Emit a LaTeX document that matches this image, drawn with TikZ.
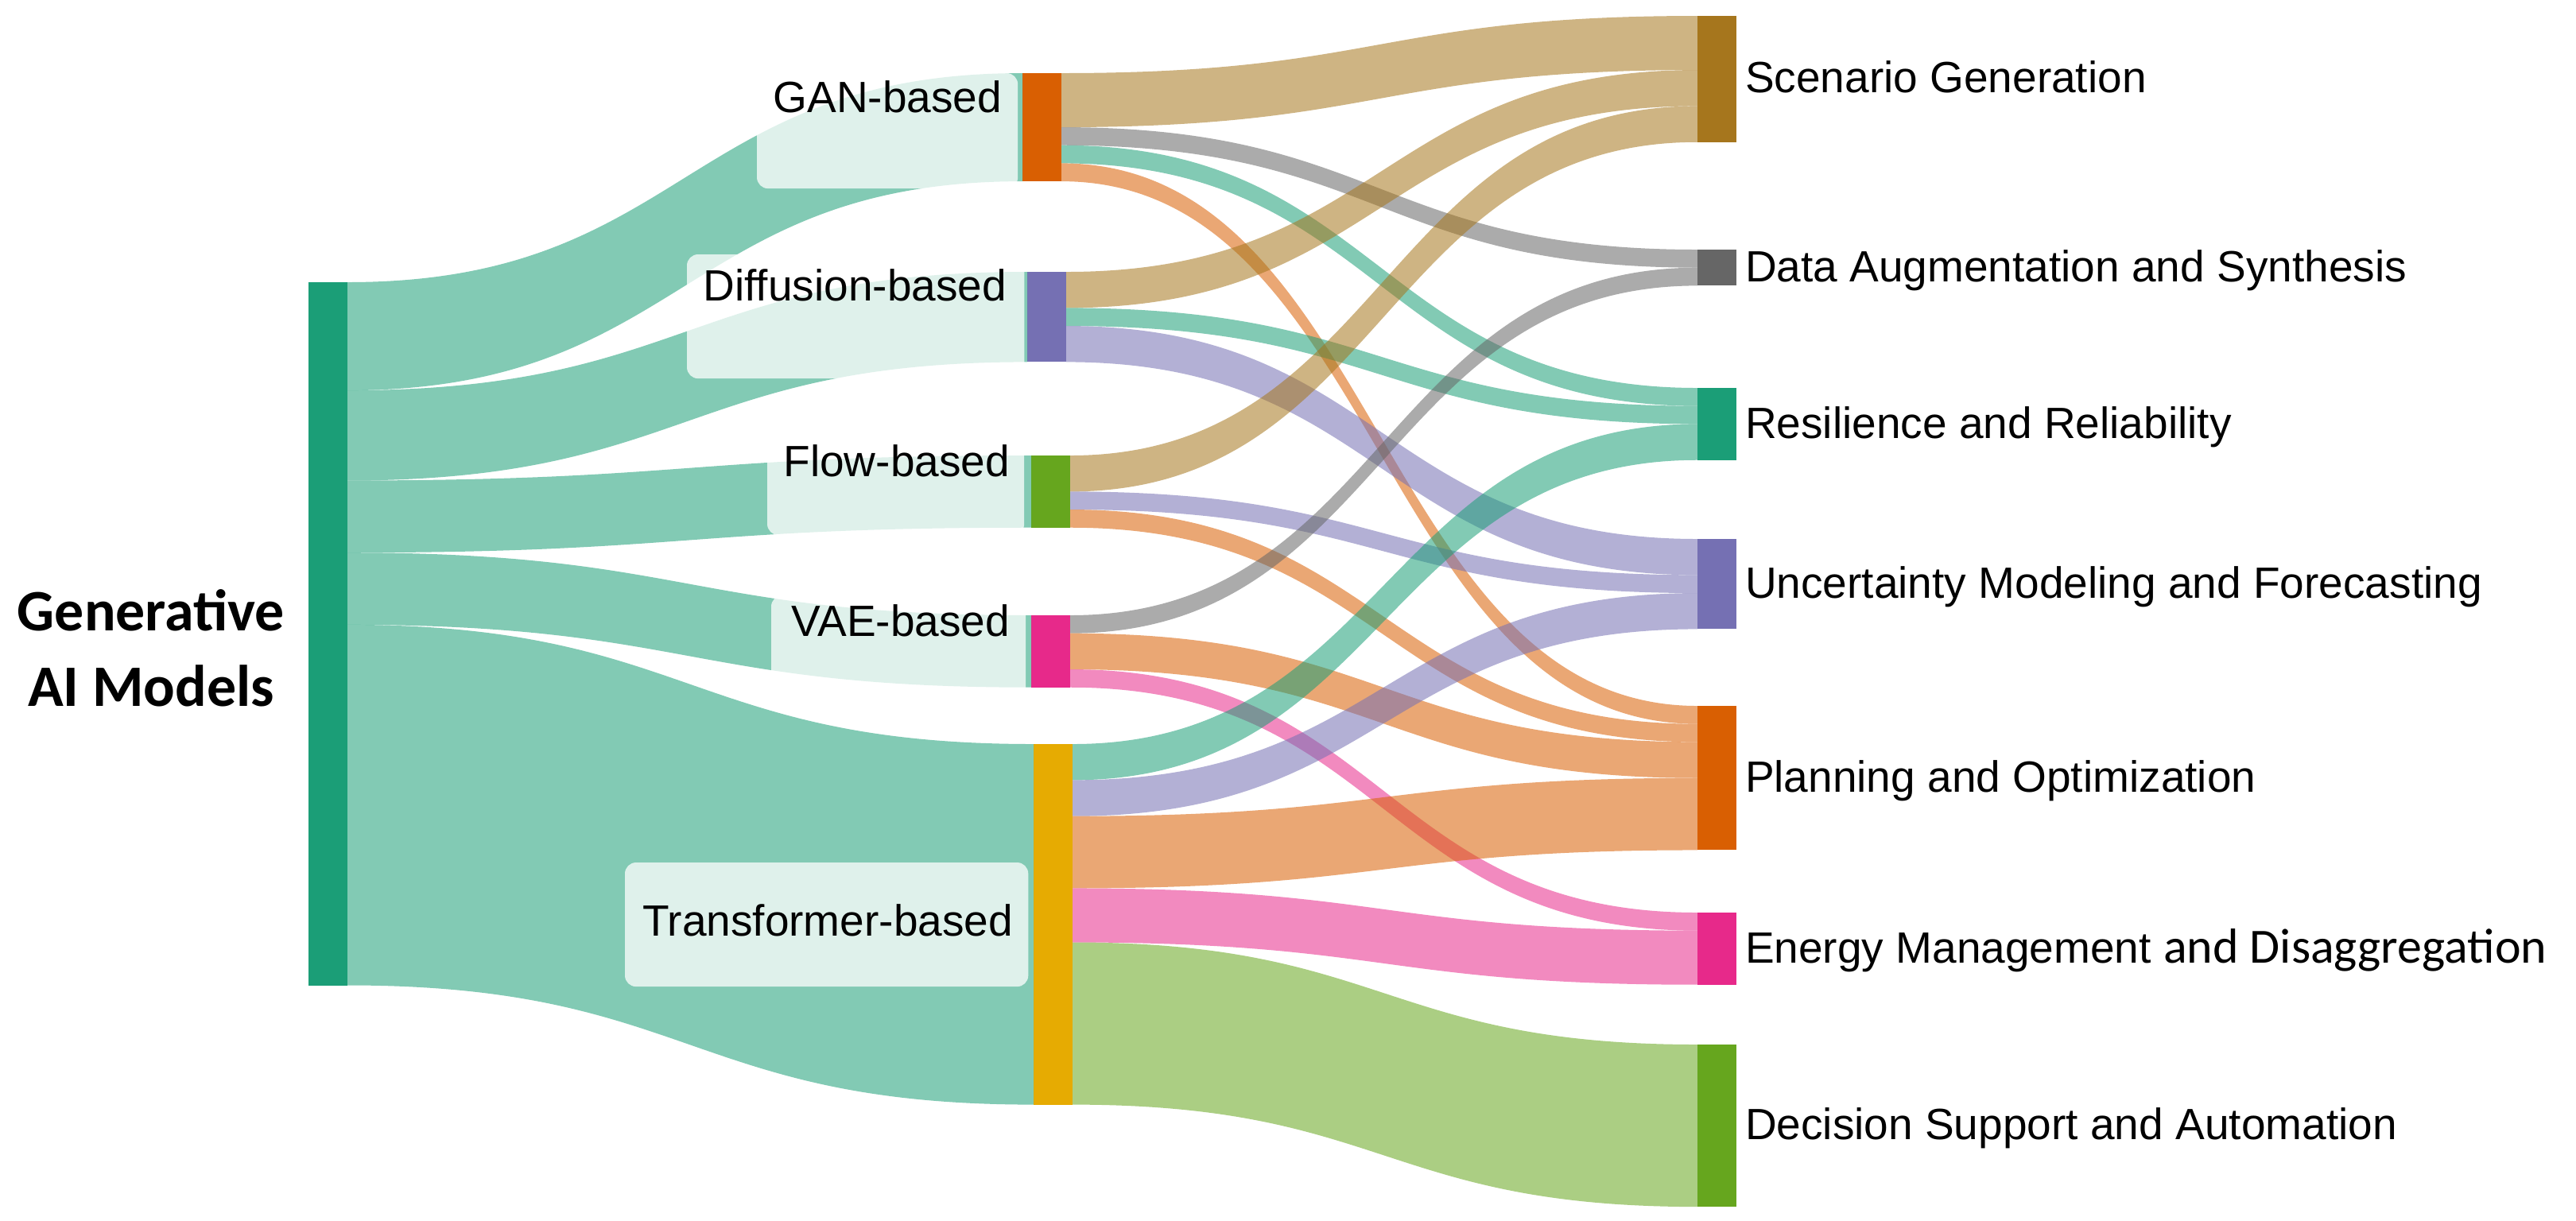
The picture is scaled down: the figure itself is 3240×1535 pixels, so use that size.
\documentclass[tikz,border=0pt]{standalone}
\usepackage{fontspec}
\setmainfont{Liberation Sans}
\newfontfamily\carlito{Carlito}
\usetikzlibrary{calc}
\definecolor{cTeal}{HTML}{1B9E77}
\definecolor{cOrange}{HTML}{D95F02}
\definecolor{cPurple}{HTML}{7570B3}
\definecolor{cPink}{HTML}{E7298A}
\definecolor{cGreen}{HTML}{66A61E}
\definecolor{cYellow}{HTML}{E6AB02}
\definecolor{cBrown}{HTML}{A6761D}
\definecolor{cGrey}{HTML}{666666}
\newcommand{\skunit}{6.449}
% source node, source offset (units), target node, target offset (units), width (units), colour
\newcommand{\sklink}[6]{%
  \fill[flow, #6] let \p1=(#1.north east), \p2=(#3.north west),
    \n1={#2*\skunit}, \n2={#4*\skunit}, \n3={#5*\skunit}, \n4={(\x1+\x2)/2} in
    (\x1,{\y1-\n1*1pt}) .. controls ({\n4*1pt},{\y1-\n1*1pt}) and ({\n4*1pt},{\y2-\n2*1pt}) .. (\x2,{\y2-\n2*1pt})
    -- (\x2,{\y2-\n2*1pt-\n3*1pt}) .. controls ({\n4*1pt},{\y2-\n2*1pt-\n3*1pt}) and ({\n4*1pt},{\y1-\n1*1pt-\n3*1pt}) .. (\x1,{\y1-\n1*1pt-\n3*1pt}) -- cycle;}
\tikzset{
  bar/.style={rectangle, inner sep=0pt, outer sep=0pt, minimum width=0.49cm, anchor=north west},
  flow/.style={fill opacity=0.55},
  lblbox/.style={rectangle, inner sep=0pt, outer sep=0pt, anchor=north west, fill=white, fill opacity=0.75, rounded corners=0.14cm},
  lbl/.style={inner sep=0pt, outer sep=0pt, font=\fontsize{15.65}{18}\selectfont, text=black}
}
\begin{document}
\begin{tikzpicture}[x=0.01cm, y=-0.01cm]
\useasboundingbox (0,0) rectangle (3240,1535);
% nodes (bars)
\node[bar, fill=cTeal,   minimum height={39*\skunit pt}] (root)  at (388,355) {};
\node[bar, fill=cOrange, minimum height={6*\skunit pt}]  (gan)   at (1286,92) {};
\node[bar, fill=cPurple, minimum height={5*\skunit pt}]  (diff)  at (1292,342) {};
\node[bar, fill=cGreen,  minimum height={4*\skunit pt}]  (flw)   at (1297,573) {};
\node[bar, fill=cPink,   minimum height={4*\skunit pt}]  (vae)   at (1297,774) {};
\node[bar, fill=cYellow, minimum height={20*\skunit pt}] (trans) at (1300,936) {};
\node[bar, fill=cBrown,  minimum height={7*\skunit pt}]  (scen)  at (2135,20) {};
\node[bar, fill=cGrey,   minimum height={2*\skunit pt}]  (data)  at (2135,314) {};
\node[bar, fill=cTeal,   minimum height={4*\skunit pt}]  (resi)  at (2135,488) {};
\node[bar, fill=cPurple, minimum height={5*\skunit pt}]  (unc)   at (2135,678) {};
\node[bar, fill=cOrange, minimum height={8*\skunit pt}]  (plan)  at (2135,888) {};
\node[bar, fill=cPink,   minimum height={4*\skunit pt}]  (ener)  at (2135,1148) {};
\node[bar, fill=cGreen,  minimum height={9*\skunit pt}]  (deci)  at (2135,1314) {};
% links from the root
\sklink{root}{0}{gan}{0}{6}{cTeal}
\sklink{root}{6}{diff}{0}{5}{cTeal}
\sklink{root}{11}{flw}{0}{4}{cTeal}
\sklink{root}{15}{vae}{0}{4}{cTeal}
\sklink{root}{19}{trans}{0}{20}{cTeal}
% GAN
\sklink{gan}{0}{scen}{0}{3}{cBrown}
\sklink{gan}{3}{data}{0}{1}{cGrey}
\sklink{gan}{4}{resi}{0}{1}{cTeal}
\sklink{gan}{5}{plan}{0}{1}{cOrange}
% Diffusion
\sklink{diff}{0}{scen}{3}{2}{cBrown}
\sklink{diff}{2}{resi}{1}{1}{cTeal}
\sklink{diff}{3}{unc}{0}{2}{cPurple}
% Flow
\sklink{flw}{0}{scen}{5}{2}{cBrown}
\sklink{flw}{2}{unc}{2}{1}{cPurple}
\sklink{flw}{3}{plan}{1}{1}{cOrange}
% VAE
\sklink{vae}{0}{data}{1}{1}{cGrey}
\sklink{vae}{1}{plan}{2}{2}{cOrange}
\sklink{vae}{3}{ener}{0}{1}{cPink}
% Transformer
\sklink{trans}{0}{resi}{2}{2}{cTeal}
\sklink{trans}{2}{unc}{3}{2}{cPurple}
\sklink{trans}{4}{plan}{4}{4}{cOrange}
\sklink{trans}{8}{ener}{1}{3}{cPink}
\sklink{trans}{11}{deci}{0}{9}{cGreen}
% label backgrounds
\node[lblbox, minimum width=3.28cm, minimum height=1.45cm] (ganbox)   at (952,92) {};
\node[lblbox, minimum width=4.24cm, minimum height=1.56cm] (diffbox)  at (864,320) {};
\node[lblbox, minimum width=3.23cm, minimum height=1.28cm] (flwbox)   at (965,545) {};
\node[lblbox, minimum width=3.20cm, minimum height=1.47cm] (vaebox)   at (970,749) {};
\node[lblbox, minimum width=5.07cm, minimum height=1.56cm] (transbox) at (786,1085) {};
% middle labels
\node[lbl, anchor=base east] (tgan)   at (1260,141)  {GAN-based};
\node[lbl, anchor=base east] (tdiff)  at (1266,378)  {Diffusion-based};
\node[lbl, anchor=base east] (tflw)   at (1270,599)  {Flow-based};
\node[lbl, anchor=base east] (tvae)   at (1270,800)  {VAE-based};
\node[lbl, anchor=base east] (ttrans) at (1274,1177) {Transformer-based};
% right labels
\node[lbl, anchor=base west] (tscen) at (2195,116)  {Scenario Generation};
\node[lbl, anchor=base west] (tdata) at (2195,354)  {Data Augmentation and Synthesis};
\node[lbl, anchor=base west] (tresi) at (2195,551)  {Resilience and Reliability};
\node[lbl, anchor=base west] (tunc)  at (2195,752)  {Uncertainty Modeling and Forecasting};
\node[lbl, anchor=base west] (tplan) at (2195,996)  {Planning and Optimization};
\node[lbl, anchor=base west] (tener) at (2195,1211) {Energy Management {\carlito\fontsize{17.6}{20}\selectfont and Disaggregation}};
\node[lbl, anchor=base west] (tdeci) at (2195,1433) {Decision Support and Automation};
% root label
\node[inner sep=0pt, align=center, font=\carlito\bfseries\fontsize{21}{27}\selectfont] (troot) at (190,815) {Generative\\AI Models};
\end{tikzpicture}
\end{document}
